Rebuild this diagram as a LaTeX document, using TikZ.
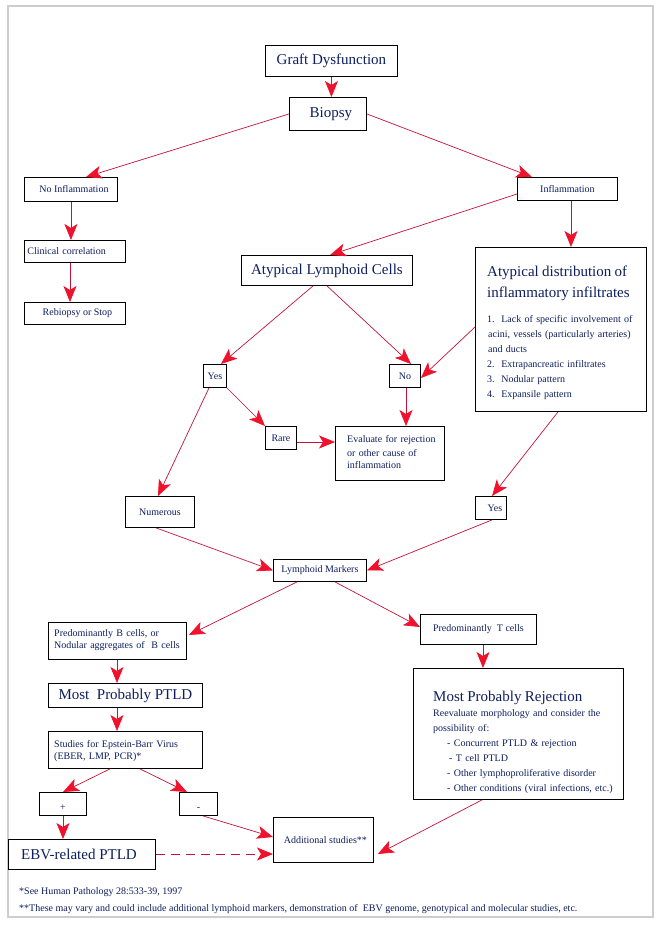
\documentclass[tikz,border=0pt]{standalone}
\usepackage{fontspec}
\setmainfont{Liberation Serif}
\usetikzlibrary{arrows.meta,calc}
\definecolor{txtc}{RGB}{14,30,96}
\definecolor{lnred}{RGB}{196,18,58}
\definecolor{hdred}{RGB}{240,18,45}
\definecolor{framec}{RGB}{205,205,205}
\begin{document}
\begin{tikzpicture}[x=1pt,y=-1pt,
  box/.style={draw=black, line width=0.9pt, rectangle, inner sep=0pt, anchor=north west, text=txtc, font=\fontsize{10}{12}\selectfont},
  big/.style={font=\fontsize{15}{18}\selectfont},
  txtblk/.style={anchor=base west, inner sep=0pt, text=txtc, align=left},
  arr/.style={draw=lnred, line width=0.7pt, -{Stealth[length=16pt,width=13pt,inset=4pt,color=hdred]}}
]
\useasboundingbox (0,0) rectangle (661,926);
\fill[white] (0,0) rectangle (661,926);
\draw[framec, line width=1.3pt] (8,6) rectangle (653,917);

% boxes
\node[box,big,minimum width=132pt,minimum height=31pt] (graft) at (265,45) {Graft Dysfunction};
\node[box,big,minimum width=77pt,minimum height=33pt] (biopsy) at (289,97) {\hspace*{6pt}Biopsy};
\node[box,minimum width=93pt,minimum height=24pt] (noinf) at (24,177) {\hspace*{6pt}No Inflammation};
\node[box,minimum width=101pt,minimum height=22pt,text width=95pt,inner xsep=3pt,align=left] (clin) at (24,240) {Clinical correlation};
\node[box,minimum width=101pt,minimum height=22pt] (rebi) at (24,302) {\hspace*{5pt}Rebiopsy or Stop};
\node[box,minimum width=100pt,minimum height=23pt] (inf) at (517,177) {Inflammation};
\node[box,big,minimum width=171pt,minimum height=30pt] (alc) at (241,255) {Atypical Lymphoid Cells};
\node[box,minimum width=171pt,minimum height=164pt] (atyp) at (475,247) {};
\node[box,minimum width=23pt,minimum height=23pt] (yes1) at (203,364) {Yes};
\node[box,minimum width=31pt,minimum height=23pt] (no) at (389,364) {No};
\node[box,minimum width=31pt,minimum height=23pt] (rare) at (265,426) {Rare};
\node[box,minimum width=109pt,minimum height=54pt] (eval) at (335,426) {};
\node[box,minimum width=69pt,minimum height=31pt] (num) at (125,496) {Numerous};
\node[box,minimum width=31pt,minimum height=23pt] (yes2) at (475,496) {\hspace*{8pt}Yes};
\node[box,minimum width=93pt,minimum height=22pt] (lm) at (273,559) {Lymphoid Markers};
\node[box,minimum width=138pt,minimum height=37pt] (bcell) at (48,622) {};
\node[box,minimum width=116pt,minimum height=30pt] (tcell) at (420,614) {Predominantly\ \ T cells};
\node[box,big,minimum width=154pt,minimum height=24pt] (ptld) at (48,683) {Most\ \ Probably PTLD};
\node[box,minimum width=210pt,minimum height=131pt] (rej) at (413,668) {};
\node[box,minimum width=154pt,minimum height=37pt] (stud) at (48,731) {};
\node[box,minimum width=47pt,minimum height=23pt] (plus) at (39,792) {\raisebox{-7pt}[0pt][0pt]{+}};
\node[box,minimum width=38pt,minimum height=23pt] (minus) at (179,792) {\raisebox{-7pt}[0pt][0pt]{-}};
\node[box,big,minimum width=147pt,minimum height=30pt] (ebv) at (8,839) {EBV-related PTLD\hspace*{6pt}};
\node[box,minimum width=100pt,minimum height=45pt] (add) at (273,817) {\hspace*{4pt}Additional studies**};

% multi-line texts
\node[txtblk,text width=160pt] (atypT) at (487,276) {{\fontsize{15}{21}\selectfont Atypical distribution of\\inflammatory infiltrates\par}\vspace{10pt}{\fontsize{10}{15}\selectfont 1.\ \ Lack of specific involvement of\\\hspace*{1pt}acini, vessels (particularly arteries)\\\hspace*{1pt}and ducts\\2.\ \ Extrapancreatic infiltrates\\3.\ \ Nodular pattern\\4.\ \ Expansile pattern\par}};
\node[txtblk,text width=95pt] (evalT) at (347,442) {\fontsize{10}{14.5}\selectfont Evaluate for rejection\\or other cause of\\inflammation};
\node[txtblk,text width=130pt] (bcT) at (54,636) {\fontsize{10}{15}\selectfont Predominantly B cells, or\\Nodular aggregates of\ \ B cells};
\node[txtblk,text width=145pt] (studT) at (54,747) {\fontsize{10}{14}\selectfont Studies for Epstein-Barr Virus\\(EBER, LMP, PCR)*};
\node[txtblk,text width=185pt] (rejT) at (433,701) {{\fontsize{15}{18}\selectfont Most Probably Rejection\par}\vspace{0.8pt}{\fontsize{10}{14.9}\selectfont Reevaluate morphology and consider the\\possibility of:\\\hspace*{14pt}- Concurrent PTLD \& rejection\\\hspace*{16pt}- T cell PTLD\\\hspace*{14pt}- Other lymphoproliferative disorder\\\hspace*{14pt}- Other conditions (viral infections, etc.)\par}};

\node[txtblk] (fn1) at (19,894) {\fontsize{10}{12}\selectfont *See Human Pathology 28:533-39, 1997};
\node[txtblk] (fn2) at (19,911) {\fontsize{10}{12}\selectfont **These may vary and could include additional lymphoid markers, demonstration of\ \ EBV genome, genotypical and molecular studies, etc.};

% helper coordinates
\coordinate (c7) at ($(inf.south west)+(54,0)$);
\coordinate (c13) at ($(no.south west)+(17,0)$);
\coordinate (c14) at ($(rare.north east)+(0,16)$);
\coordinate (c20) at ($(bcell.south west)+(69,0)$);
\coordinate (c21) at ($(ptld.south west)+(69,0)$);
\coordinate (c22) at ($(tcell.south west)+(63,0)$);
\coordinate (c25) at ($(plus.south west)+(24,0)$);
\coordinate (c27) at ($(ebv.north east)+(0,15)$);

% connectors
\draw[arr] (graft.south) -- (graft.south |- biopsy.north);
\draw[arr] (biopsy.west) -- ($(noinf.north west)+(62,0)$);
\draw[arr] (biopsy.east) -- ($(inf.north west)+(15,0)$);
\draw[arr] (noinf.south) -- (noinf.south |- clin.north);
\draw[arr] ($(clin.south west)+(46,0)$) -- ($(rebi.north west)+(46,0)$);
\draw[arr] ($(inf.north west)+(0,17)$) -- ($(alc.north west)+(89,0)$);
\draw[arr] (c7) -- (c7 |- atyp.north);
\draw[arr] ($(alc.south west)+(72,0)$) -- ($(yes1.north west)+(18,0)$);
\draw[arr] ($(alc.south west)+(86,0)$) -- ($(no.north west)+(22,0)$);
\draw[arr] ($(atyp.north west)+(0,80)$) -- ($(no.north east)+(0,14)$);
\draw[arr] (yes1.south east) -- (rare.north west);
\draw[arr] ($(yes1.south west)+(6,0)$) -- ($(num.north west)+(33,0)$);
\draw[arr] (c13) -- (c13 |- eval.north);
\draw[arr] (c14) -- (c14 -| eval.west);
\draw[arr] ($(atyp.south west)+(83,0)$) -- ($(yes2.north west)+(17,0)$);
\draw[arr] ($(num.south west)+(31,0)$) -- (lm.west);
\draw[arr] ($(yes2.south west)+(17,0)$) -- (lm.east);
\draw[arr] ($(lm.south west)+(24,0)$) -- ($(bcell.north east)+(2,13)$);
\draw[arr] ($(lm.south west)+(62,0)$) -- ($(tcell.north west)+(0,13)$);
\draw[arr] (c20) -- (c20 |- ptld.north);
\draw[arr] (c21) -- (c21 |- stud.north);
\draw[arr] (c22) -- (c22 |- rej.north);
\draw[arr] ($(stud.south west)+(62,0)$) -- ($(plus.north west)+(24,0)$);
\draw[arr] ($(stud.south west)+(92,0)$) -- ($(minus.north west)+(8,0)$);
\draw[arr] (c25) -- (c25 |- ebv.north);
\draw[arr] ($(minus.south west)+(24,0)$) -- ($(add.north west)+(0,20)$);
\draw[arr,dash pattern=on 9pt off 6pt] (c27) -- (c27 -| add.west);
\draw[arr] ($(rej.south west)+(69,0)$) -- ($(add.north east)+(4,37)$);
\end{tikzpicture}
\end{document}
